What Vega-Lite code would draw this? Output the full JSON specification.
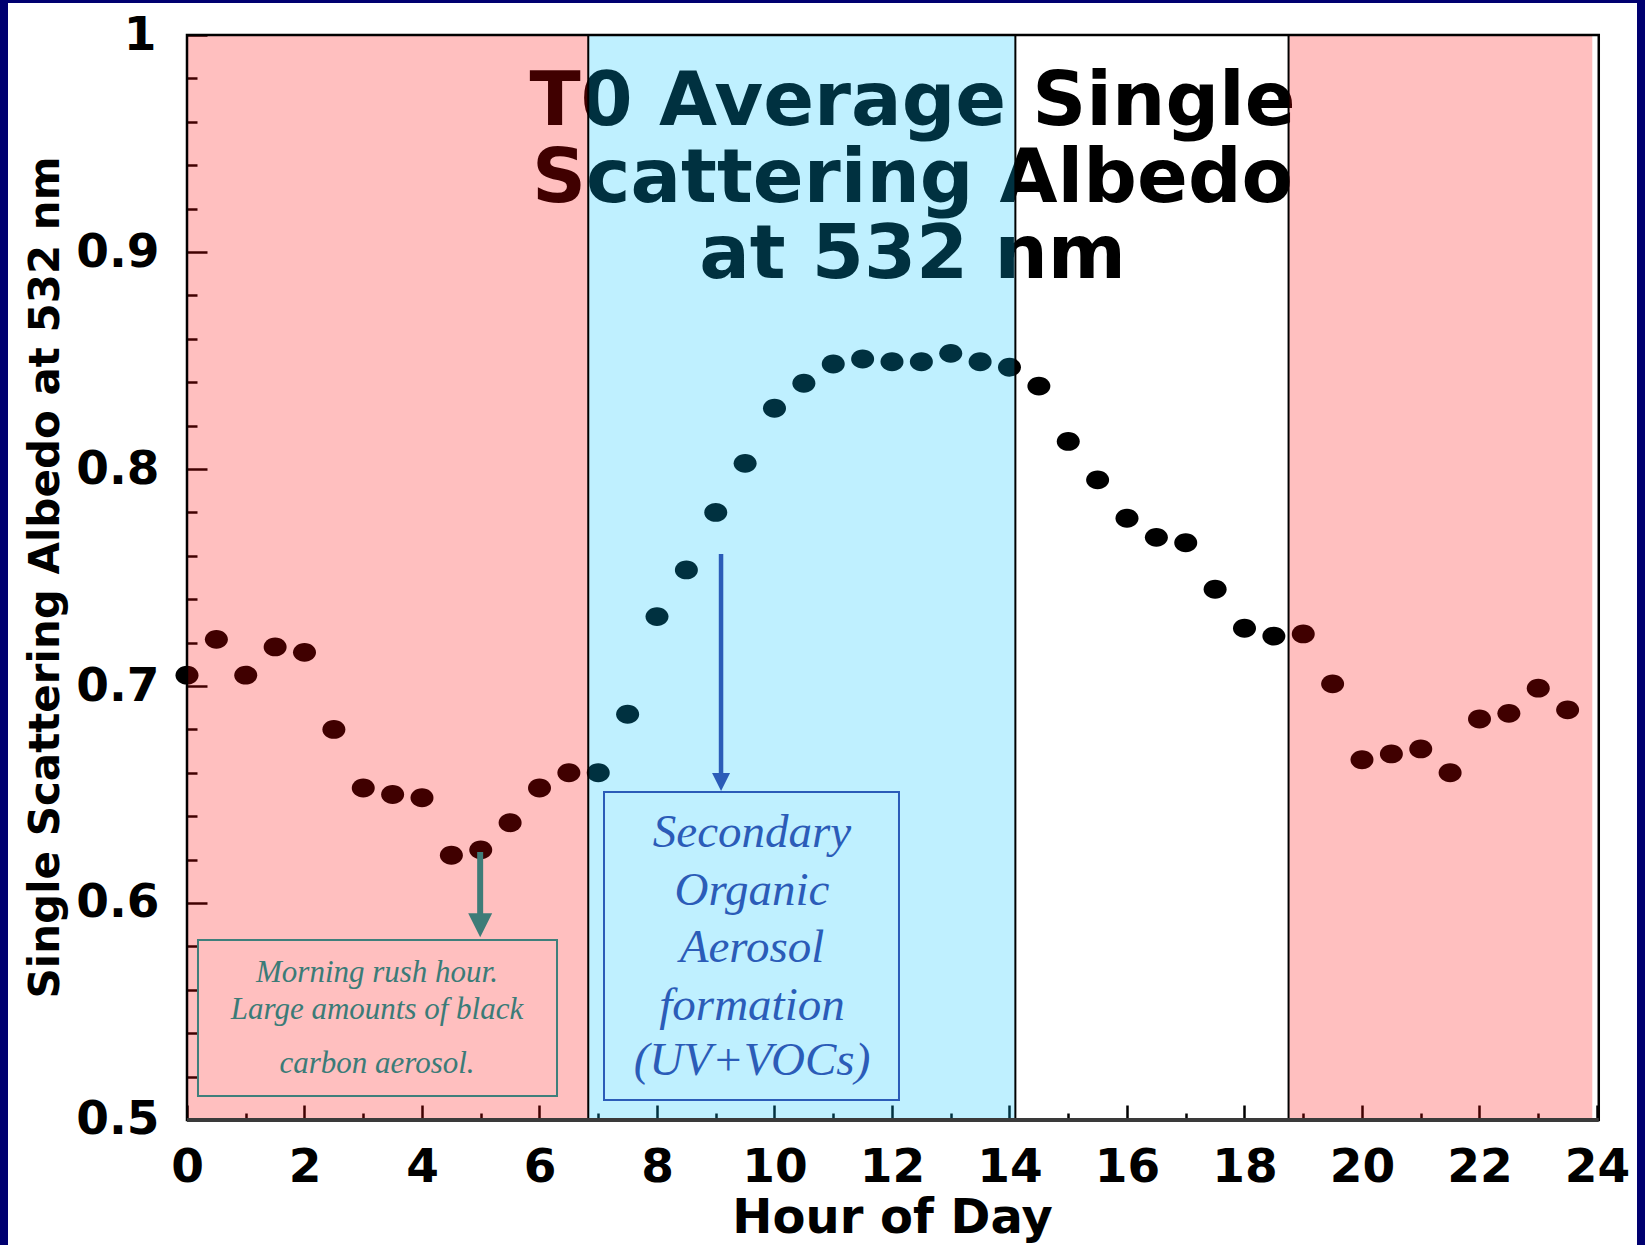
{
  "$schema": "https://vega.github.io/schema/vega-lite/v6.json",
  "width": 1629,
  "height": 1242,
  "autosize": {"type": "none"},
  "padding": {"left": 8, "right": 8, "top": 3, "bottom": 0},
  "background": "#000070",
  "config": {
    "view": {"fill": "#ffffff", "stroke": null},
    "axis": {
      "domain": false,
      "grid": false,
      "labelFont": "DejaVu Sans",
      "labelFontWeight": "bold",
      "labelFontSize": 47,
      "labelColor": "#000000",
      "tickColor": "#000000",
      "tickWidth": 2.5,
      "labelOverlap": false,
      "labelFlush": false,
      "labelBound": false,
      "titleFont": "DejaVu Sans",
      "titleFontWeight": "bold",
      "titleColor": "#000000",
      "zindex": 0
    }
  },
  "datasets": {
    "albedo": [
      {"hour": 0, "ssa": 0.705}, {"hour": 0.5, "ssa": 0.7215}, {"hour": 1, "ssa": 0.705}, {"hour": 1.5, "ssa": 0.718},
      {"hour": 2, "ssa": 0.7155}, {"hour": 2.5, "ssa": 0.68}, {"hour": 3, "ssa": 0.653}, {"hour": 3.5, "ssa": 0.65},
      {"hour": 4, "ssa": 0.6485}, {"hour": 4.5, "ssa": 0.622}, {"hour": 5, "ssa": 0.6245}, {"hour": 5.5, "ssa": 0.637},
      {"hour": 6, "ssa": 0.653}, {"hour": 6.5, "ssa": 0.66}, {"hour": 7, "ssa": 0.66}, {"hour": 7.5, "ssa": 0.687},
      {"hour": 8, "ssa": 0.732}, {"hour": 8.5, "ssa": 0.7535}, {"hour": 9, "ssa": 0.78}, {"hour": 9.5, "ssa": 0.8026},
      {"hour": 10, "ssa": 0.828}, {"hour": 10.5, "ssa": 0.8395}, {"hour": 11, "ssa": 0.8484}, {"hour": 11.5, "ssa": 0.8507},
      {"hour": 12, "ssa": 0.8494}, {"hour": 12.5, "ssa": 0.8494}, {"hour": 13, "ssa": 0.8533}, {"hour": 13.5, "ssa": 0.8494},
      {"hour": 14, "ssa": 0.8469}, {"hour": 14.5, "ssa": 0.8382}, {"hour": 15, "ssa": 0.8127}, {"hour": 15.5, "ssa": 0.795},
      {"hour": 16, "ssa": 0.7773}, {"hour": 16.5, "ssa": 0.7685}, {"hour": 17, "ssa": 0.766}, {"hour": 17.5, "ssa": 0.7446},
      {"hour": 18, "ssa": 0.7266}, {"hour": 18.5, "ssa": 0.723}, {"hour": 19, "ssa": 0.724}, {"hour": 19.5, "ssa": 0.701},
      {"hour": 20, "ssa": 0.666}, {"hour": 20.5, "ssa": 0.6687}, {"hour": 21, "ssa": 0.671}, {"hour": 21.5, "ssa": 0.66},
      {"hour": 22, "ssa": 0.6848}, {"hour": 22.5, "ssa": 0.6874}, {"hour": 23, "ssa": 0.699}, {"hour": 23.5, "ssa": 0.689}
    ],
    "periods": [
      {"start": 0, "end": 6.83, "period": "Night and morning traffic"},
      {"start": 6.83, "end": 14.1, "period": "Photochemistry"},
      {"start": 18.75, "end": 23.92, "period": "Night and morning traffic"}
    ],
    "boundaries": [{"hour": 6.83}, {"hour": 14.1}, {"hour": 18.75}],
    "titleLines": [
      {"text": "T0 Average Single", "hour": 12.35, "ssa": 0.9585},
      {"text": "Scattering Albedo", "hour": 12.35, "ssa": 0.923},
      {"text": "at 532 nm", "hour": 12.35, "ssa": 0.888}
    ],
    "rushNote": [
      {"text": "Morning rush hour.", "hour": 3.234, "ssa": 0.5637},
      {"text": "Large amounts of black", "hour": 3.234, "ssa": 0.5465},
      {"text": "carbon aerosol.", "hour": 3.234, "ssa": 0.5217}
    ],
    "soaNote": [
      {"text": "Secondary", "hour": 9.617, "ssa": 0.6259},
      {"text": "Organic", "hour": 9.617, "ssa": 0.5991},
      {"text": "Aerosol", "hour": 9.617, "ssa": 0.573},
      {"text": "formation", "hour": 9.617, "ssa": 0.5461},
      {"text": "(UV+VOCs)", "hour": 9.617, "ssa": 0.5207}
    ],
    "rushBox": [{"x1": 0.187, "x2": 6.298, "y1": 0.5111, "y2": 0.5829}],
    "soaBox": [{"x1": 7.098, "x2": 12.119, "y1": 0.5092, "y2": 0.6512}],
    "rushArrow": [{"hour": 4.99, "from": 0.6235, "to": 0.5945, "tip": 0.5897}],
    "soaArrow": [{"hour": 9.09, "from": 0.7608, "to": 0.659, "tip": 0.6558}]
  },
  "layer": [
    {
      "data": {"name": "albedo"},
      "mark": {"type": "point", "filled": true, "shape": "M -1 0 A 1 0.82 0 1 0 1 0 A 1 0.82 0 1 0 -1 0 Z", "size": 529, "color": "#000000", "opacity": 1},
      "encoding": {
        "x": {
          "field": "hour", "type": "quantitative",
          "scale": {"domain": [-3.0468, 24.6809], "nice": false, "zero": false},
          "axis": {
            "orient": "bottom", "offset": -125,
            "values": [0,0.5,1,1.5,2,2.5,3,3.5,4,4.5,5,5.5,6,6.5,7,7.5,8,8.5,9,9.5,10,10.5,11,11.5,12,12.5,13,13.5,14,14.5,15,15.5,16,16.5,17,17.5,18,18.5,19,19.5,20,20.5,21,21.5,22,22.5,23,23.5,24],
            "labelExpr": "datum.value % 2 === 0 ? format(datum.value, 'd') : ''",
            "tickSize": {"condition": {"test": "datum.value % 2 === 0", "value": -15}, "value": -7},
            "labelPadding": 39,
            "labelAlign": "center",
            "labelBaseline": "top",
            "title": "Hour of Day",
            "titleFontSize": 48,
            "titleX": 884, "titleY": 112,
            "titleAlign": "center", "titleBaseline": "alphabetic", "titleAngle": 0
          }
        },
        "y": {
          "field": "ssa", "type": "quantitative",
          "scale": {"domain": [0.442396, 1.014747], "nice": false, "zero": false},
          "axis": {
            "orient": "left", "offset": -179,
            "values": [0.5,0.52,0.54,0.56,0.58,0.6,0.62,0.64,0.66,0.68,0.7,0.72,0.74,0.76,0.78,0.8,0.82,0.84,0.86,0.88,0.9,0.92,0.94,0.96,0.98,1.0],
            "labelExpr": "abs(datum.value*10 - round(datum.value*10)) < 0.01 ? (datum.value > 0.99 ? '1' : format(datum.value, '.1f')) : ''",
            "tickSize": {"condition": {"test": "abs(datum.value*10 - round(datum.value*10)) < 0.01", "value": -20}, "value": -10},
            "labelPadding": {"condition": {"test": "datum.value > 0.99", "value": 51}, "value": 48},
            "labelAlign": "right",
            "labelBaseline": "middle",
            "title": "Single Scattering Albedo at 532 nm",
            "titleFontSize": 42,
            "titleX": -129, "titleY": 574,
            "titleAngle": -90, "titleAlign": "center", "titleBaseline": "alphabetic"
          }
        }
      }
    },
    {
      "data": {"name": "titleLines"},
      "mark": {"type": "text", "font": "DejaVu Sans", "fontWeight": "bold", "fontSize": 75, "align": "center", "baseline": "alphabetic", "color": "#000000"},
      "encoding": {
        "x": {"field": "hour", "type": "quantitative", "scale": {"domain": [-3.0468, 24.6809], "nice": false, "zero": false}},
        "y": {"field": "ssa", "type": "quantitative", "scale": {"domain": [0.442396, 1.014747], "nice": false, "zero": false}},
        "text": {"field": "text"}
      }
    },
    {
      "data": {"name": "periods"},
      "mark": {"type": "rect", "opacity": 0.25},
      "encoding": {
        "x": {"field": "start", "type": "quantitative", "scale": {"domain": [-3.0468, 24.6809], "nice": false, "zero": false}},
        "x2": {"field": "end"},
        "y": {"datum": 0.5, "type": "quantitative", "scale": {"domain": [0.442396, 1.014747], "nice": false, "zero": false}},
        "y2": {"datum": 1.0},
        "color": {"field": "period", "type": "nominal", "scale": {"domain": ["Night and morning traffic", "Photochemistry"], "range": ["#FF0000", "#00C4FF"]}, "legend": null}
      }
    },
    {
      "data": {"name": "boundaries"},
      "mark": {"type": "rule", "color": "#000000", "strokeWidth": 2},
      "encoding": {
        "x": {"field": "hour", "type": "quantitative", "scale": {"domain": [-3.0468, 24.6809], "nice": false, "zero": false}},
        "y": {"datum": 0.5, "type": "quantitative", "scale": {"domain": [0.442396, 1.014747], "nice": false, "zero": false}},
        "y2": {"datum": 1.0}
      }
    },
    {
      "data": {"values": [{}]},
      "mark": {"type": "rect", "filled": false, "color": "#000000", "strokeWidth": 2.5},
      "encoding": {
        "x": {"datum": 0, "type": "quantitative", "scale": {"domain": [-3.0468, 24.6809], "nice": false, "zero": false}},
        "x2": {"datum": 24.03},
        "y": {"datum": 0.5, "type": "quantitative", "scale": {"domain": [0.442396, 1.014747], "nice": false, "zero": false}},
        "y2": {"datum": 1.0}
      }
    },
    {
      "data": {"values": [{}]},
      "mark": {"type": "rule", "color": "#3a3a3a", "strokeWidth": 4},
      "encoding": {
        "x": {"datum": 0, "type": "quantitative", "scale": {"domain": [-3.0468, 24.6809], "nice": false, "zero": false}},
        "x2": {"datum": 24.03},
        "y": {"datum": 0.5, "type": "quantitative", "scale": {"domain": [0.442396, 1.014747], "nice": false, "zero": false}}
      }
    },
    {
      "data": {"name": "rushBox"},
      "mark": {"type": "rect", "filled": false, "color": "#3F7F7B", "strokeWidth": 2},
      "encoding": {
        "x": {"field": "x1", "type": "quantitative", "scale": {"domain": [-3.0468, 24.6809], "nice": false, "zero": false}},
        "x2": {"field": "x2"},
        "y": {"field": "y1", "type": "quantitative", "scale": {"domain": [0.442396, 1.014747], "nice": false, "zero": false}},
        "y2": {"field": "y2"}
      }
    },
    {
      "data": {"name": "soaBox"},
      "mark": {"type": "rect", "filled": false, "color": "#2B5CB8", "strokeWidth": 2},
      "encoding": {
        "x": {"field": "x1", "type": "quantitative", "scale": {"domain": [-3.0468, 24.6809], "nice": false, "zero": false}},
        "x2": {"field": "x2"},
        "y": {"field": "y1", "type": "quantitative", "scale": {"domain": [0.442396, 1.014747], "nice": false, "zero": false}},
        "y2": {"field": "y2"}
      }
    },
    {
      "data": {"name": "rushNote"},
      "mark": {"type": "text", "font": "Liberation Serif", "fontStyle": "italic", "fontSize": 31, "align": "center", "baseline": "alphabetic", "color": "#3B7B77"},
      "encoding": {
        "x": {"field": "hour", "type": "quantitative", "scale": {"domain": [-3.0468, 24.6809], "nice": false, "zero": false}},
        "y": {"field": "ssa", "type": "quantitative", "scale": {"domain": [0.442396, 1.014747], "nice": false, "zero": false}},
        "text": {"field": "text"}
      }
    },
    {
      "data": {"name": "soaNote"},
      "mark": {"type": "text", "font": "Liberation Serif", "fontStyle": "italic", "fontSize": 47, "align": "center", "baseline": "alphabetic", "color": "#2B5CB8"},
      "encoding": {
        "x": {"field": "hour", "type": "quantitative", "scale": {"domain": [-3.0468, 24.6809], "nice": false, "zero": false}},
        "y": {"field": "ssa", "type": "quantitative", "scale": {"domain": [0.442396, 1.014747], "nice": false, "zero": false}},
        "text": {"field": "text"}
      }
    },
    {
      "data": {"name": "rushArrow"},
      "mark": {"type": "rule", "color": "#3E7C78", "strokeWidth": 6},
      "encoding": {
        "x": {"field": "hour", "type": "quantitative", "scale": {"domain": [-3.0468, 24.6809], "nice": false, "zero": false}},
        "y": {"field": "from", "type": "quantitative", "scale": {"domain": [0.442396, 1.014747], "nice": false, "zero": false}},
        "y2": {"field": "to"}
      }
    },
    {
      "data": {"name": "rushArrow"},
      "mark": {"type": "point", "filled": true, "shape": "M -1 -1 L 1 -1 L 0 1 Z", "size": 576, "color": "#3E7C78", "opacity": 1},
      "encoding": {
        "x": {"field": "hour", "type": "quantitative", "scale": {"domain": [-3.0468, 24.6809], "nice": false, "zero": false}},
        "y": {"field": "tip", "type": "quantitative", "scale": {"domain": [0.442396, 1.014747], "nice": false, "zero": false}}
      }
    },
    {
      "data": {"name": "soaArrow"},
      "mark": {"type": "rule", "color": "#2B5CB8", "strokeWidth": 4.5},
      "encoding": {
        "x": {"field": "hour", "type": "quantitative", "scale": {"domain": [-3.0468, 24.6809], "nice": false, "zero": false}},
        "y": {"field": "from", "type": "quantitative", "scale": {"domain": [0.442396, 1.014747], "nice": false, "zero": false}},
        "y2": {"field": "to"}
      }
    },
    {
      "data": {"name": "soaArrow"},
      "mark": {"type": "point", "filled": true, "shape": "M -1 -1 L 1 -1 L 0 1 Z", "size": 324, "color": "#2B5CB8", "opacity": 1},
      "encoding": {
        "x": {"field": "hour", "type": "quantitative", "scale": {"domain": [-3.0468, 24.6809], "nice": false, "zero": false}},
        "y": {"field": "tip", "type": "quantitative", "scale": {"domain": [0.442396, 1.014747], "nice": false, "zero": false}}
      }
    }
  ]
}
